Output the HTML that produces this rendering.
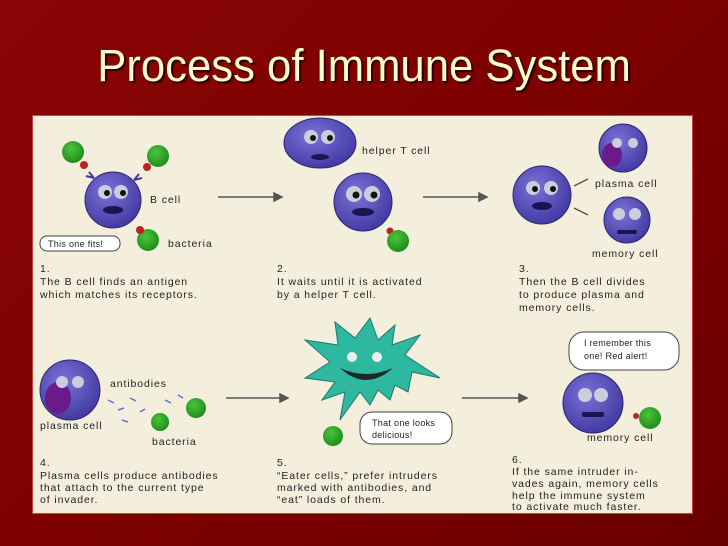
<!DOCTYPE html>
<html><head><meta charset="utf-8"><style>
html,body{margin:0;padding:0;}
body{width:728px;height:546px;overflow:hidden;background:linear-gradient(135deg,#8a0505 0%,#7a0000 60%,#6a0000 100%);position:relative;font-family:"Liberation Sans",sans-serif;}
.title{position:absolute;left:0;width:728px;top:40px;text-align:center;color:#ffffcc;font-size:45px;text-shadow:2px 2px 1px #2a0000;white-space:nowrap;}
.title span{display:inline-block;transform:scaleX(0.97);}
.panel{position:absolute;left:32px;top:115px;width:659px;height:397px;background:#f4efdd;border:1px solid #c44;}
svg{position:absolute;left:0;top:0;}
text{font-family:"Liberation Sans",sans-serif;font-size:10.5px;fill:#222;letter-spacing:0.9px;}
</style></head><body>
<div class="title"><span>Process of Immune System</span></div>
<div class="panel"></div>
<svg width="728" height="546" viewBox="0 0 728 546">
<defs>
<radialGradient id="b" cx="0.4" cy="0.35" r="0.7"><stop offset="0" stop-color="#7a72d8"/><stop offset="1" stop-color="#3f38a0"/></radialGradient>
<radialGradient id="g" cx="0.4" cy="0.35" r="0.7"><stop offset="0" stop-color="#4cc43c"/><stop offset="1" stop-color="#1c8a1a"/></radialGradient>
</defs>
<g stroke="#555" stroke-width="1.5" fill="#555">
<line x1="218" y1="197" x2="276" y2="197"/><path d="M274 193 L282 197 L274 201Z"/>
<line x1="423" y1="197" x2="481" y2="197"/><path d="M479 193 L487 197 L479 201Z"/>
<line x1="226" y1="398" x2="282" y2="398"/><path d="M280 394 L288 398 L280 402Z"/>
<line x1="462" y1="398" x2="521" y2="398"/><path d="M519 394 L527 398 L519 402Z"/>
<line x1="574" y1="186" x2="588" y2="179"/><line x1="574" y1="208" x2="588" y2="215"/>
</g>
<!-- panel 1 -->
<g stroke="#3f38a0" stroke-width="2" fill="none"><path d="M94 178 l-5 -6 M94 178 l-8 -2 M134 180 l5 -6 M134 180 l8 -2"/></g>
<circle cx="73" cy="152" r="11" fill="url(#g)"/><circle cx="158" cy="156" r="11" fill="url(#g)"/><circle cx="148" cy="240" r="11" fill="url(#g)"/>
<circle cx="84" cy="165" r="4" fill="#c02020"/><circle cx="147" cy="167" r="4" fill="#c02020"/><circle cx="140" cy="230" r="4" fill="#c02020"/>
<circle cx="113" cy="200" r="28" fill="url(#b)" stroke="#2c2670"/>
<circle cx="105" cy="192" r="7" fill="#ccd" /><circle cx="121" cy="192" r="7" fill="#ccd"/><circle cx="107" cy="193" r="3" fill="#111"/><circle cx="123" cy="193" r="3" fill="#111"/>
<ellipse cx="113" cy="210" rx="10" ry="4" fill="#1a1550"/>
<rect x="40" y="236" width="80" height="15" rx="7" fill="#fff" stroke="#444"/>
<text x="48" y="247" style="font-size:9px;letter-spacing:0.3px">This one fits!</text>
<text x="150" y="203">B cell</text><text x="168" y="247">bacteria</text>
<text x="40" y="272">1.</text><text x="40" y="285">The B cell finds an antigen</text><text x="40" y="298">which matches its receptors.</text>
<!-- panel 2 -->
<ellipse cx="320" cy="143" rx="36" ry="25" fill="url(#b)" stroke="#2c2670"/>
<circle cx="311" cy="137" r="7" fill="#ccd"/><circle cx="328" cy="137" r="7" fill="#ccd"/><circle cx="313" cy="138" r="3" fill="#111"/><circle cx="330" cy="138" r="3" fill="#111"/><ellipse cx="320" cy="157" rx="9" ry="3" fill="#1a1550"/>
<text x="362" y="154">helper T cell</text>
<circle cx="363" cy="202" r="29" fill="url(#b)" stroke="#2c2670"/>
<circle cx="354" cy="194" r="8" fill="#ccd"/><circle cx="372" cy="194" r="8" fill="#ccd"/><circle cx="356" cy="195" r="3.5" fill="#111"/><circle cx="374" cy="195" r="3.5" fill="#111"/><ellipse cx="363" cy="212" rx="11" ry="4" fill="#1a1550"/>
<circle cx="390" cy="231" r="3.5" fill="#c02020"/>
<circle cx="398" cy="241" r="11" fill="url(#g)"/>
<text x="277" y="272">2.</text><text x="277" y="285">It waits until it is activated</text><text x="277" y="298">by a helper T cell.</text>
<!-- panel 3 -->
<circle cx="542" cy="195" r="29" fill="url(#b)" stroke="#2c2670"/>
<circle cx="533" cy="188" r="7" fill="#ccd"/><circle cx="551" cy="188" r="7" fill="#ccd"/><circle cx="535" cy="189" r="3" fill="#111"/><circle cx="553" cy="189" r="3" fill="#111"/><ellipse cx="542" cy="206" rx="10" ry="4" fill="#1a1550"/>
<circle cx="623" cy="148" r="24" fill="url(#b)" stroke="#2c2670"/><ellipse cx="612" cy="155" rx="10" ry="12" fill="#6a1a8a"/>
<circle cx="617" cy="143" r="5" fill="#ccd"/><circle cx="633" cy="143" r="5" fill="#ccd"/>
<text x="595" y="187">plasma cell</text>
<circle cx="627" cy="220" r="23" fill="url(#b)" stroke="#2c2670"/>
<circle cx="619" cy="214" r="6" fill="#ccd"/><circle cx="635" cy="214" r="6" fill="#ccd"/><rect x="617" y="230" width="20" height="4" rx="2" fill="#1a1550"/>
<text x="592" y="257">memory cell</text>
<text x="519" y="272">3.</text><text x="519" y="285">Then the B cell divides</text><text x="519" y="298">to produce plasma and</text><text x="519" y="311">memory cells.</text>
<!-- panel 4 -->
<circle cx="70" cy="390" r="30" fill="url(#b)" stroke="#2c2670"/><ellipse cx="58" cy="398" rx="13" ry="16" fill="#6a1a8a"/>
<circle cx="62" cy="382" r="6" fill="#ccd"/><circle cx="78" cy="382" r="6" fill="#ccd"/>
<text x="110" y="387">antibodies</text>
<g stroke="#6a6ad0" stroke-width="1.5"><path d="M108 400 l6 3 M118 410 l6 -2 M130 398 l6 3 M140 412 l5 -3 M122 420 l6 2 M165 400 l6 3 M178 395 l5 3"/></g>
<circle cx="196" cy="408" r="10" fill="url(#g)"/><circle cx="160" cy="422" r="9" fill="url(#g)"/>
<text x="152" y="445">bacteria</text><text x="40" y="429">plasma cell</text>
<text x="40" y="466">4.</text><text x="40" y="479">Plasma cells produce antibodies</text><text x="40" y="491">that attach to the current type</text><text x="40" y="503">of invader.</text>
<!-- panel 5 -->
<path d="M370 318 L378 340 L395 325 L392 345 L420 335 L405 355 L440 378 L412 372 L408 392 L395 385 L390 400 L378 390 L370 405 L360 392 L340 420 L345 392 L322 400 L335 382 L305 378 L330 362 L305 340 L338 345 L335 322 L355 338 Z" fill="#2fb8a0" stroke="#1a7a6a"/>
<circle cx="352" cy="357" r="5" fill="#eee"/><circle cx="377" cy="357" r="5" fill="#eee"/>
<path d="M340 368 Q366 392 393 368 Q366 380 340 368Z" fill="#1a2a2a"/>
<circle cx="333" cy="436" r="10" fill="url(#g)"/>
<rect x="360" y="412" width="92" height="32" rx="12" fill="#fff" stroke="#444"/>
<text x="372" y="426" style="font-size:9px;letter-spacing:0.3px">That one looks</text><text x="372" y="438" style="font-size:9px;letter-spacing:0.3px">delicious!</text>
<text x="277" y="466">5.</text><text x="277" y="479">“Eater cells,” prefer intruders</text><text x="277" y="491">marked with antibodies, and</text><text x="277" y="503">“eat” loads of them.</text>
<!-- panel 6 -->
<rect x="569" y="332" width="110" height="38" rx="15" fill="#fff" stroke="#444"/>
<text x="584" y="346" style="font-size:9px;letter-spacing:0.3px">I remember this</text><text x="584" y="359" style="font-size:9px;letter-spacing:0.3px">one! Red alert!</text>
<circle cx="593" cy="403" r="30" fill="url(#b)" stroke="#2c2670"/>
<circle cx="585" cy="395" r="7" fill="#ccd"/><circle cx="601" cy="395" r="7" fill="#ccd"/><rect x="582" y="412" width="22" height="5" rx="2" fill="#1a1550"/>
<circle cx="650" cy="418" r="11" fill="url(#g)"/><circle cx="636" cy="416" r="3" fill="#c02020"/>
<text x="587" y="441">memory cell</text>
<text x="512" y="463">6.</text><text x="512" y="475">If the same intruder in-</text><text x="512" y="487">vades again, memory cells</text><text x="512" y="499">help the immune system</text><text x="512" y="510">to activate much faster.</text>
</svg>
</body></html>
